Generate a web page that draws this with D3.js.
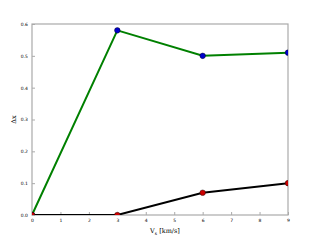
<!DOCTYPE html>
<html>
<head>
<meta charset="utf-8">
<script src="https://cdn.jsdelivr.net/npm/d3@7"></script>
<style>
  body { margin: 0; background: #fff; }
  text { font-family: "DejaVu Serif", serif; }
</style>
</head>
<body>
<svg id="chart" width="320" height="240"></svg>
<script>
const vs = [0, 3, 6, 9];
const greenSeries = [0, 0.58, 0.50, 0.51];
const blackSeries = [0, 0, 0.07, 0.10];
const xTicks = [0, 1, 2, 3, 4, 5, 6, 7, 8, 9];
const yTicks = [0.0, 0.1, 0.2, 0.3, 0.4, 0.5, 0.6];

const svg = d3.select("#chart");
const plotLeft = 32, plotRight = 288, plotTop = 24, plotBottom = 215;

const x = d3.scaleLinear().domain([0, 9]).range([plotLeft, plotRight]);
const y = d3.scaleLinear().domain([0, 0.6]).range([plotBottom, plotTop]);

svg.append("defs").append("clipPath").attr("id", "plot-clip")
    .append("rect")
    .attr("x", plotLeft).attr("y", plotTop)
    .attr("width", plotRight - plotLeft).attr("height", plotBottom - plotTop);

// axes, ticks pointing inward
const xAxis = svg.append("g")
    .attr("transform", `translate(0,${plotBottom})`)
    .call(d3.axisBottom(x).tickValues(xTicks).tickSize(-3).tickPadding(4).tickFormat(d3.format("d")));
const yAxis = svg.append("g")
    .attr("transform", `translate(${plotLeft},0)`)
    .call(d3.axisLeft(y).tickValues(yTicks).tickSize(-3).tickPadding(4).tickFormat(d3.format(".1f")));

[xAxis, yAxis].forEach(g => {
    g.select(".domain").remove();
    g.selectAll(".tick line").attr("stroke", "#555").attr("stroke-width", 0.5);
    g.selectAll(".tick text").attr("font-size", "4.5px").attr("fill", "#000")
        .style("font-family", "'DejaVu Sans', sans-serif");
});

// frame
svg.append("rect")
    .attr("x", plotLeft).attr("y", plotTop)
    .attr("width", plotRight - plotLeft).attr("height", plotBottom - plotTop)
    .attr("fill", "none")
    .attr("stroke", "#aaa")
    .attr("stroke-width", 1.2);

const line = d3.line()
    .x((d, i) => x(vs[i]))
    .y(d => y(d));

const plot = svg.append("g").attr("clip-path", "url(#plot-clip)");

const series = [
    {values: greenSeries, color: "#008000", marker: "#0000cc"},
    {values: blackSeries, color: "#000000", marker: "#cc0000"}
];

series.forEach(s => {
    plot.append("path")
        .attr("d", line(s.values))
        .attr("fill", "none")
        .attr("stroke", s.color)
        .attr("stroke-width", 2);
});

series.forEach(s => {
    plot.selectAll(null)
        .data(s.values)
        .enter()
        .append("circle")
        .attr("cx", (d, i) => x(vs[i]))
        .attr("cy", d => y(d))
        .attr("r", 2.8)
        .attr("fill", s.marker)
        .attr("stroke", "#000")
        .attr("stroke-width", 0.4);
});

// axis labels
svg.append("text")
    .attr("x", 165)
    .attr("y", 233)
    .attr("text-anchor", "middle")
    .attr("font-size", "6.5px")
    .html('V<tspan font-size="4.5px" dy="1.5">s</tspan><tspan dy="-1.5"> [km/s]</tspan>');

svg.append("text")
    .attr("transform", `translate(16,${(plotTop + plotBottom) / 2}) rotate(-90)`)
    .attr("text-anchor", "middle")
    .attr("font-size", "6.5px")
    .text("Δx");
</script>
</body>
</html>
